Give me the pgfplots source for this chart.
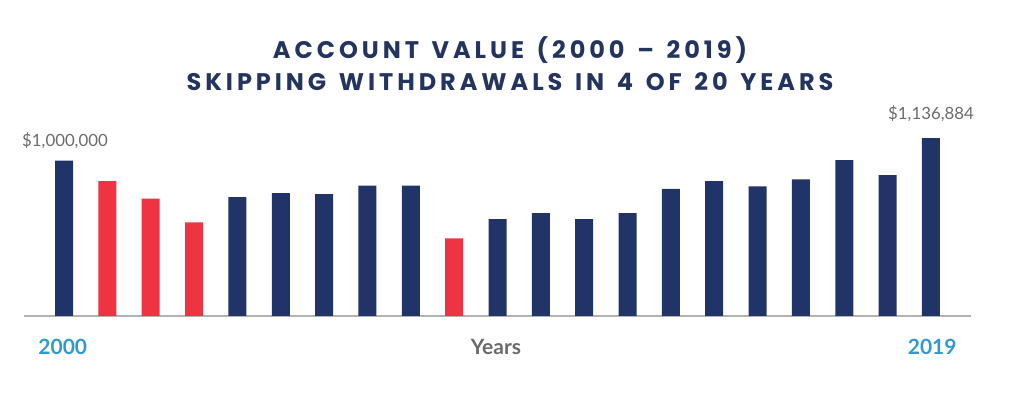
\documentclass[border=0pt]{standalone}
\usepackage{pgfplots}
\pgfplotsset{compat=1.18}
\usepackage{fontspec}
\setmainfont{Lato}
\newfontfamily\titlefont[LetterSpace=16.5, WordSpace=1.4]{Poppins}
\definecolor{navy}{HTML}{213468}
\definecolor{redbar}{HTML}{EE3342}
\definecolor{titleblue}{HTML}{23345F}
\definecolor{yearblue}{HTML}{2E9BD0}
\definecolor{labgray}{HTML}{6B6B6B}
\begin{document}
\begin{tikzpicture}[x=1pt,y=1pt]
\path[use as bounding box] (0,0) rectangle (512,200.5);
\begin{axis}[
  at={(12pt,42.5pt)}, anchor=south west,
  scale only axis, width=473.5pt, height=108pt,
  xmin=-0.923, xmax=20.923,
  ymin=60000, ymax=1367450,
  axis x line*=bottom, axis y line=none,
  x axis line style={color=black!30, line width=1pt, -},
  xtick=\empty, ytick=\empty,
  ybar, bar width=9pt, bar shift=0pt,
  clip=false,
]
\addplot[fill=navy, draw=none] coordinates {
(0,1000000) (4,780000) (5,803000) (6,797000) (7,849000) (8,849000)
(10,647000) (11,683000) (12,647000) (13,683000) (14,829000) (15,877000)
(16,845000) (17,887000) (18,1004000) (19,913000) (20,1136884)};
\addplot[fill=redbar, draw=none] coordinates {
(1,877000) (2,770000) (3,627000) (9,530000)};
\end{axis}
\node[anchor=base, inner sep=0, text=labgray, font=\fontsize{8.4}{10}\selectfont] at (32.5,127) {\$1,000,000};
\node[anchor=base, inner sep=0, text=labgray, font=\fontsize{8.4}{10}\selectfont] at (465.5,140.5) {\$1,136,884};
\node[anchor=center, inner sep=0, text=titleblue, font=\titlefont\bfseries\fontsize{12}{14}\selectfont] at (255,175.5) {ACCOUNT VALUE (2000 – 2019)};
\node[anchor=center, inner sep=0, text=titleblue, font=\titlefont\bfseries\fontsize{12}{14}\selectfont] at (255,159.5) {SKIPPING WITHDRAWALS IN 4 OF 20 YEARS};
\node[anchor=west, inner sep=0, text=yearblue, font=\bfseries\fontsize{10.5}{12}\selectfont] at (19,27) {2000};
\node[anchor=east, inner sep=0, text=yearblue, font=\bfseries\fontsize{10.5}{12}\selectfont] at (478.5,27) {2019};
\node[anchor=center, inner sep=0, text=labgray, font=\bfseries\fontsize{10.5}{12}\selectfont] at (248,27) {Years};
\end{tikzpicture}
\end{document}
